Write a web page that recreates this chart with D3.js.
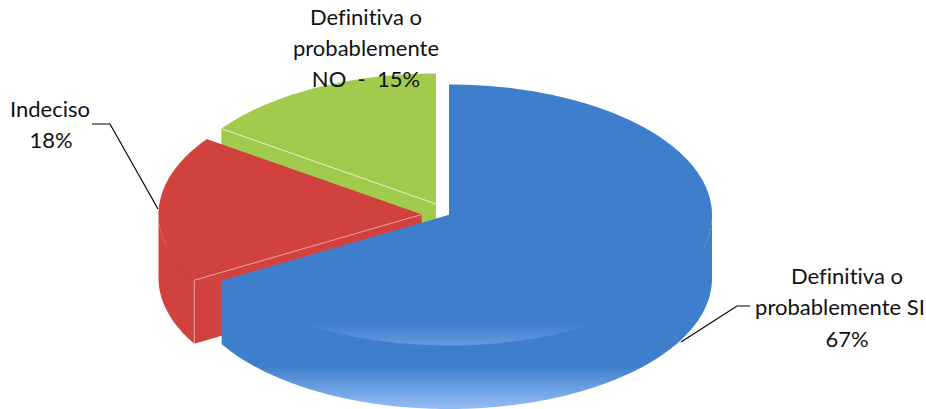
<!DOCTYPE html>
<html>
<head>
<meta charset="utf-8">
<script src="https://cdn.jsdelivr.net/npm/d3@7"></script>
<style>
html,body{margin:0;padding:0;background:#fff;}
svg{display:block;}
text{font-family:Lato,"Open Sans",sans-serif;font-size:22px;fill:#111;text-anchor:middle;white-space:pre;font-variant-ligatures:none;}
</style>
</head>
<body>
<svg id="c" width="926" height="409"></svg>
<script>
// Data
const categories = ["Definitiva o probablemente SI", "Indeciso", "Definitiva o probablemente NO"];
const shares = [66.6, 18.2, 15.2];
const labelLines = [
  ["Definitiva o", "probablemente SI"],
  ["Indeciso"],
  ["Definitiva o", "probablemente", "NO  -  "]
];
const colors = ["#3E7FCD", "#D1413E", "#A2CB4D"];

// Layout
const W = 926, H = 409;
const radiusX = 263, radiusY = 130.5, depth = 63.5;
const centers = [[449, 215], [421.5, 214.5], [436, 204]];
const labelAnchors = [[840, 284], [50, 116.5], [366, 24.5]];
const rowShift = [[7, 0, 7], [0, 1], [0, 0, 0]];
const lineStep = 31.3;
const leaders = [
  [[681, 342], [737, 306], [750, 306]],
  [[158, 209], [110, 124], [92, 124]],
  null
];

const svg = d3.select("#c");
const pct = d3.format(".0%");
const pie = d3.pie().sort(null).value(d => d);
const arcs = pie(shares);
const total = d3.sum(shares);

const sx = d3.scaleLinear().domain([-1, 1]).range([-radiusX, radiusX]);
const sy = d3.scaleLinear().domain([-1, 1]).range([-radiusY, radiusY]);
const line = d3.line();

function rim(a0, a1, c, dy, k = 1) {
  const n = Math.ceil((a1 - a0) / (Math.PI / 180));
  return d3.range(n + 1).map(i => {
    const a = a0 + (a1 - a0) * i / n;
    return [c[0] + sx(k * Math.sin(a)), c[1] + sy(-k * Math.cos(a)) + dy];
  });
}

const defs = svg.append("defs");
function gradient(id, y1, y2, from, to) {
  const g = defs.append("linearGradient").attr("id", id)
    .attr("gradientUnits", "userSpaceOnUse")
    .attr("x1", 0).attr("x2", 0).attr("y1", y1).attr("y2", y2);
  g.append("stop").attr("offset", 0).attr("stop-color", from);
  g.append("stop").attr("offset", 1).attr("stop-color", to);
}
gradient("wallBlue", 366, 408, colors[0], "#93BBF3");
gradient("topBlue", 323, 346, colors[0], "#6499E0");

// Back to front: green, red, blue
[2, 1, 0].forEach(i => {
  const d = arcs[i], c = centers[i];
  const top = rim(d.startAngle, d.endAngle, c, 0);
  const bottom = rim(d.startAngle, d.endAngle, c, depth);
  const apexBottom = [c[0], c[1] + depth];
  const g = svg.append("g").attr("class", "slice");
  const wallFill = i === 0 ? "url(#wallBlue)" : colors[i];

  // cut faces
  g.append("path").attr("fill", colors[i])
    .attr("d", line([c, top[0], bottom[0], apexBottom]) + "Z");
  g.append("path").attr("fill", colors[i])
    .attr("d", line([c, top[top.length - 1], bottom[bottom.length - 1], apexBottom]) + "Z");

  // outer wall: only the front half of the rim can be seen
  const w0 = Math.max(d.startAngle, Math.PI / 2);
  const w1 = Math.min(d.endAngle, 3 * Math.PI / 2);
  if (w1 > w0) {
    const wallTop = rim(w0, w1, c, 0);
    const wallBottom = rim(w0, w1, c, depth);
    const under = rim(w0, w1, c, 0, 0.97);
    const underBottom = rim(w0, w1, c, depth, 0.97);
    g.append("path").attr("fill", wallFill)
      .attr("d", line(under.concat(underBottom.slice().reverse())) + "Z");
    g.append("path").attr("fill", wallFill)
      .attr("d", line(wallTop.concat(wallBottom.slice().reverse())) + "Z");
  }
  // top face
  g.append("path").attr("fill", i === 0 ? "url(#topBlue)" : colors[i])
    .attr("d", line([c].concat(top)) + "Z");

  // pale highlights on the visible cut edges
  if (i === 2) {
    g.append("path").attr("fill", "none").attr("stroke", "#E6F2C8").attr("stroke-width", 1)
      .attr("d", line([top[0], c]));
  }
  if (i === 1) {
    g.append("path").attr("fill", "none").attr("stroke", "#E8A09E").attr("stroke-width", 1)
      .attr("d", line([c, top[0], bottom[0]]));
  }
});

// Leader lines
svg.append("g").selectAll("path").data(leaders.filter(Boolean)).join("path")
  .attr("fill", "none").attr("stroke", "#000").attr("stroke-width", 1.2)
  .attr("d", d => line(d));

// Labels
labelLines.forEach((lines, i) => {
  const value = pct(shares[i] / total);
  const rows = i === 2
    ? lines.slice(0, -1).concat(lines[lines.length - 1] + value)
    : lines.concat(value);
  svg.append("text").selectAll("tspan").data(rows).join("tspan")
    .attr("x", (d, k) => labelAnchors[i][0] + rowShift[i][k])
    .attr("y", (d, k) => labelAnchors[i][1] + k * lineStep)
    .text(d => d);
});
</script>
</body>
</html>
